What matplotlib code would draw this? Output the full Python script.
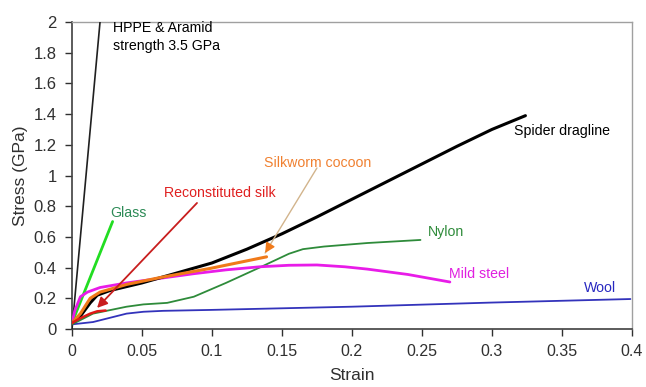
import matplotlib
matplotlib.use("Agg")
import matplotlib.pyplot as plt
from matplotlib.ticker import FuncFormatter

plt.rcParams['font.family'] = ['Liberation Sans', 'DejaVu Sans']

# Data (strain, stress GPa)
hppe_x = [0.0, 0.035]
hppe_y = [0.0, 3.5]

glass_x = [0.0, 0.029]
glass_y = [0.04, 0.70]

recon_x = [0.0, 0.006, 0.013, 0.018, 0.024]
recon_y = [0.04, 0.07, 0.10, 0.115, 0.12]

cocoon_x = [0.0, 0.006, 0.013, 0.020, 0.039, 0.063, 0.099, 0.139]
cocoon_y = [0.04, 0.10, 0.20, 0.24, 0.29, 0.335, 0.395, 0.47]

spider_x = [0.0, 0.0057, 0.013, 0.018, 0.027, 0.05, 0.075, 0.1, 0.125, 0.15, 0.175,
            0.2, 0.225, 0.25, 0.275, 0.3, 0.324]
spider_y = [0.04, 0.08, 0.17, 0.22, 0.25, 0.30, 0.365, 0.43, 0.52, 0.62, 0.73,
            0.845, 0.96, 1.075, 1.19, 1.30, 1.39]

nylon_x = [0.0, 0.015, 0.039, 0.051, 0.068, 0.087, 0.11, 0.134, 0.155, 0.165, 0.18, 0.211, 0.249]
nylon_y = [0.03, 0.10, 0.145, 0.16, 0.17, 0.21, 0.30, 0.40, 0.49, 0.52, 0.537, 0.56, 0.58]

steel_x = [0.0, 0.002, 0.006, 0.011, 0.02, 0.039, 0.063, 0.087, 0.11, 0.134, 0.155, 0.175, 0.195, 0.211, 0.24, 0.27]
steel_y = [0.04, 0.12, 0.21, 0.24, 0.27, 0.30, 0.33, 0.36, 0.385, 0.405, 0.415, 0.417, 0.405, 0.39, 0.355, 0.306]

wool_x = [0.0, 0.015, 0.039, 0.051, 0.065, 0.099, 0.2, 0.3, 0.399]
wool_y = [0.03, 0.045, 0.10, 0.112, 0.118, 0.124, 0.145, 0.172, 0.195]

xticks = [0, 0.05, 0.1, 0.15, 0.2, 0.25, 0.3, 0.35, 0.4]
yticks = [0, 0.2, 0.4, 0.6, 0.8, 1.0, 1.2, 1.4, 1.6, 1.8, 2.0]

fig = plt.figure(figsize=(6.46, 3.87), dpi=100)
ax = fig.add_axes([0.1115, 0.150, 0.8665, 0.793])

kw = dict(solid_joinstyle='round', solid_capstyle='round')
ax.plot(hppe_x, hppe_y, color='#202020', lw=1.2, zorder=3, **kw)
ax.plot(glass_x, glass_y, color='#22DD22', lw=2.0, zorder=3, **kw)
ax.plot(wool_x, wool_y, color='#3333BB', lw=1.3, zorder=3, **kw)
ax.plot(nylon_x, nylon_y, color='#2E8B3A', lw=1.3, zorder=3, **kw)
ax.plot(steel_x, steel_y, color='#E81CE8', lw=2.0, zorder=3, **kw)
ax.plot(spider_x, spider_y, color='black', lw=2.2, zorder=4, **kw)
ax.plot(cocoon_x, cocoon_y, color='#F07A1A', lw=2.2, zorder=5, **kw)
ax.plot(recon_x, recon_y, color='#E01818', lw=1.8, zorder=5, **kw)

ax.set_xlim(0, 0.4)
ax.set_ylim(0, 2)
ax.set_xticks(xticks)
ax.set_yticks(yticks)
fmt = FuncFormatter(lambda v, p: ('%g' % round(v, 3)))
ax.xaxis.set_major_formatter(fmt)
ax.yaxis.set_major_formatter(fmt)
ax.tick_params(direction='out', length=5, width=1, labelsize=11.5, colors='#303030', pad=6)
ax.tick_params(axis='y', labelsize=12)
for s in ['left', 'bottom']:
    ax.spines[s].set_color('#404040')
    ax.spines[s].set_linewidth(1.2)
for s in ['top', 'right']:
    ax.spines[s].set_color('#A0A0A0')
    ax.spines[s].set_linewidth(1.0)

ax.set_xlabel('Strain', fontsize=12.5, color='#303030', labelpad=6)
ax.set_ylabel('Stress (GPa)', fontsize=12.5, color='#303030', labelpad=4)

fs = 10.2
ax.text(0.0293, 1.905, 'HPPE & Aramid\nstrength 3.5 GPa', fontsize=fs, color='black',
        va='center', ha='left', linespacing=1.35)
ax.text(0.316, 1.287, 'Spider dragline', fontsize=fs, color='black', va='center')
ax.text(0.1375, 1.081, 'Silkworm cocoon', fontsize=fs, color='#F08030', va='center')
ax.text(0.066, 0.886, 'Reconstituted silk', fontsize=fs, color='#E02020', va='center')
ax.text(0.027, 0.755, 'Glass', fontsize=fs, color='#2E8B57', va='center')
ax.text(0.254, 0.632, 'Nylon', fontsize=fs, color='#2E8B3A', va='center')
ax.text(0.2695, 0.358, 'Mild steel', fontsize=fs, color='#E020E0', va='center')
ax.text(0.3655, 0.267, 'Wool', fontsize=fs, color='#2828C0', va='center')

# pointer arrows
ax.annotate('', xy=(0.0179, 0.137), xytext=(0.0893, 0.821),
            arrowprops=dict(arrowstyle='-|>,head_length=0.6,head_width=0.3',
                            color='#C81E1E', lw=1.3, shrinkA=0, shrinkB=0), zorder=6)
ax.annotate('', xy=(0.138, 0.495), xytext=(0.175, 1.049),
            arrowprops=dict(arrowstyle='-', color='#D2B48C', lw=1.0,
                            shrinkA=0, shrinkB=0), zorder=6)
ax.annotate('', xy=(0.138, 0.495), xytext=(0.1415, 0.547),
            arrowprops=dict(arrowstyle='-|>,head_length=0.6,head_width=0.3',
                            color='#F07A1A', lw=1.0, shrinkA=0, shrinkB=0), zorder=6)

fig.savefig('out.png', dpi=100)
